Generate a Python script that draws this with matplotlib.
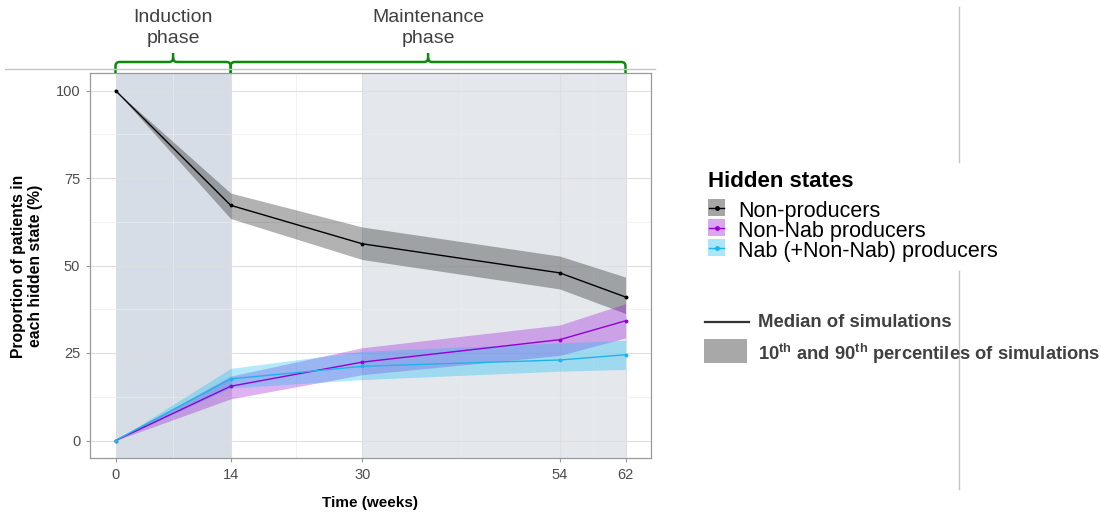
import numpy as np
import matplotlib
matplotlib.use("Agg")
import matplotlib.pyplot as plt
from matplotlib.path import Path
from matplotlib.patches import PathPatch, Rectangle
from matplotlib.lines import Line2D
import matplotlib.transforms as mtransforms

plt.rcParams['font.family'] = ['Liberation Sans', 'DejaVu Sans']
plt.rcParams['mathtext.fontset'] = 'custom'
plt.rcParams['mathtext.rm'] = 'Liberation Sans'
plt.rcParams['mathtext.bf'] = 'Liberation Sans:bold'

# data (weeks, % of patients)
weeks = [0, 14, 30, 54, 62]
non_prod_med = [100, 67.2, 56.2, 47.9, 41.0]
non_prod_lo = [100, 63.4, 51.7, 43.3, 36.3]
non_prod_hi = [100, 70.7, 61.0, 52.7, 46.7]

non_nab_med = [0, 15.5, 22.4, 28.8, 34.2]
non_nab_lo = [0, 11.9, 18.8, 24.3, 29.3]
non_nab_hi = [0, 18.4, 26.5, 33.0, 39.1]

nab_med = [0, 17.6, 21.2, 23.0, 24.5]
nab_lo = [0, 15.0, 17.4, 19.8, 20.3]
nab_hi = [0, 20.6, 25.5, 27.9, 28.6]

phases = ["Induction\nphase", "Maintenance\nphase"]
phase_bounds = [(0, 14), (14, 62)]
shade_bounds = [(0, 14), (30, 62)]
shade_colors = ['#d6dde6', '#e4e8ed']

series = [
    ("Non-producers", non_prod_med, non_prod_lo, non_prod_hi, 'black', '#000000', 0.3),
    ("Non-Nab producers", non_nab_med, non_nab_lo, non_nab_hi, '#9400D3', '#9400D3', 0.3),
    ("Nab (+Non-Nab) producers", nab_med, nab_lo, nab_hi, '#1EB4EB', '#10BCF5', 0.32),
]

W, H = 1101, 513
fig = plt.figure(figsize=(W / 100, H / 100), dpi=100)


def fx(x):
    return x / W


def fy(y):
    return 1 - y / H


ax = fig.add_axes([fx(90), fy(458), (651 - 90) / W, (458 - 73) / H])

for (a, b), c in zip(shade_bounds, shade_colors):
    ax.axvspan(a, b, color=c, lw=0, zorder=0.5)

for name, med, lo, hi, lc, fc, al in series:
    ax.fill_between(weeks, lo, hi, color=fc, alpha=al, lw=0, zorder=2)
for name, med, lo, hi, lc, fc, al in series:
    ax.plot(weeks, med, color=lc, lw=1, marker='o', ms=1.8, zorder=3)

ax.set_xlim(-3.1, 65.1)
ax.set_ylim(-5, 105)
ax.set_xticks(weeks)
ax.set_yticks([0, 25, 50, 75, 100])
ax.set_xticks([7, 22, 42, 58], minor=True)
ax.set_yticks([12.5, 37.5, 62.5, 87.5], minor=True)
ax.grid(which='major', color='#dedede', lw=0.8)
ax.grid(which='minor', color='#ebebeb', lw=0.5)
ax.tick_params(which='major', length=3, color='#999999', labelsize=10.5,
               labelcolor='#4d4d4d', pad=4)
ax.tick_params(which='minor', length=0)
for s in ax.spines.values():
    s.set_color('#9a9a9a')
    s.set_linewidth(0.9)

fig.text(fx(370), fy(503), "Time (weeks)", ha='center', va='center',
         fontsize=11, fontweight='bold')
fig.text(fx(27), fy(266), "Proportion of patients in\neach hidden state (%)",
         rotation=90, ha='center', va='center', fontsize=11.3,
         fontweight='bold', multialignment='center', linespacing=1.15)

# braces above the panel
trans = mtransforms.blended_transform_factory(ax.transData, ax.transAxes)
rx, ry = 0.5, 0.011
yh, ypk = 1.0286, 1.052
for (x0, x1), label in zip(phase_bounds, phases):
    xm = (x0 + x1) / 2
    verts = [(x0, 1.0), (x0, yh - ry), (x0, yh), (x0 + rx, yh),
             (xm - rx, yh), (xm, yh), (xm, yh + ry), (xm, ypk),
             (xm, yh + ry), (xm, yh), (xm + rx, yh),
             (x1 - rx, yh), (x1, yh), (x1, yh - ry), (x1, 1.0)]
    codes = [Path.MOVETO, Path.LINETO, Path.CURVE3, Path.CURVE3,
             Path.LINETO, Path.CURVE3, Path.CURVE3, Path.LINETO,
             Path.MOVETO, Path.CURVE3, Path.CURVE3,
             Path.LINETO, Path.CURVE3, Path.CURVE3, Path.LINETO]
    pp = PathPatch(Path(verts, codes), transform=trans, fill=False,
                   edgecolor='#0d8a0d', lw=1.8, clip_on=False, zorder=5)
    ax.add_patch(pp)
    ax.text(xm, 1.116, label, transform=trans, ha='center', va='center',
            fontsize=14, color='#404040', linespacing=1.3)

# slide lines
fig.add_artist(Line2D([fx(5), fx(655)], [fy(69), fy(69)], color='#c4c4c4', lw=1))
fig.add_artist(Line2D([fx(959), fx(959)], [fy(7), fy(162)], color='#c4c4c4', lw=1))
fig.add_artist(Line2D([fx(959), fx(959)], [fy(271), fy(489)], color='#c4c4c4', lw=1))

# legend (hidden states)
fig.text(fx(708), fy(187), "Hidden states", fontsize=16, fontweight='bold',
         ha='left', va='baseline')
for i, (name, med, lo, hi, lc, fc, al) in enumerate(series):
    top = 199 + 20 * i
    fig.add_artist(Rectangle((fx(708), fy(top + 17)), 17 / W, 17 / H,
                             facecolor=fc, alpha=al + 0.05, lw=0))
    fig.add_artist(Line2D([fx(709), fx(724)], [fy(top + 8.5)] * 2, color=lc, lw=1))
    fig.add_artist(Line2D([fx(716.5)], [fy(top + 8.5)], color=lc, marker='o', ms=2.5))
    fig.text(fx(738), fy(top + 18), name, fontsize=15.5, ha='left', va='baseline')

# legend (statistics)
fig.add_artist(Line2D([fx(705), fx(749)], [fy(322), fy(322)], color='#333333', lw=1.6))
fig.text(fx(758), fy(327), "Median of simulations", fontsize=13.3,
         fontweight='bold', color='#404040', ha='left', va='baseline')
fig.add_artist(Rectangle((fx(704), fy(363)), 43 / W, 24 / H,
                         facecolor='#a8a8a8', lw=0))
fig.text(fx(758), fy(360),
         r"10$^{\mathbf{th}}$ and 90$^{\mathbf{th}}$ percentiles of simulations",
         fontsize=13.2, fontweight='bold', color='#404040', ha='left', va='baseline')

fig.savefig("out.png", dpi=100)
